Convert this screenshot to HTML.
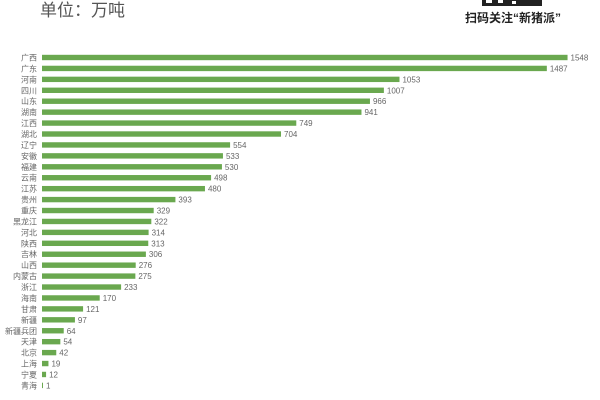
<!DOCTYPE html>
<html><head><meta charset="utf-8"><style>
html,body{margin:0;padding:0;background:#fff;}
svg{display:block;font-family:"Liberation Sans","Noto Sans CJK SC",sans-serif;}
</style></head><body>
<svg width="600" height="400" viewBox="0 0 600 400" xmlns="http://www.w3.org/2000/svg">
<rect width="600" height="400" fill="#fff"/>
<text x="40" y="16" font-size="17" fill="#555">单位：万吨</text>
<rect x="482" y="0" width="60" height="6" fill="#222"/>
<rect x="486" y="0" width="6" height="3" fill="#fff"/>
<rect x="498" y="0" width="5" height="3" fill="#fff"/>
<rect x="512" y="1" width="4" height="3" fill="#fff"/>
<text x="465" y="22" font-size="12" font-weight="bold" fill="#222">扫码关注“新猪派”</text>
<g id="bars" font-size="8" fill="#666"></g>
</svg>
<script>
var d=[["广西",1548],["广东",1487],["河南",1053],["四川",1007],["山东",966],["湖南",941],["江西",749],["湖北",704],["辽宁",554],["安徽",533],["福建",530],["云南",498],["江苏",480],["贵州",393],["重庆",329],["黑龙江",322],["河北",314],["陕西",313],["吉林",306],["山西",276],["内蒙古",275],["浙江",233],["海南",170],["甘肃",121],["新疆",97],["新疆兵团",64],["天津",54],["北京",42],["上海",19],["宁夏",12],["青海",1]];
var g=document.getElementById('bars'),s='';
for(var i=0;i<d.length;i++){var y=57.5+i*10.93,w=Math.max(1,d[i][1]*0.3395);
s+='<text x="37" y="'+(y+3)+'" text-anchor="end">'+d[i][0]+'</text>';
s+='<rect x="42" y="'+(y-2.7)+'" width="'+w+'" height="5.4" fill="#6aa84f"/>';
s+='<text x="'+(42+w+3)+'" y="'+(y+3)+'">'+d[i][1]+'</text>';}
g.innerHTML=s;
</script>
</body></html>
